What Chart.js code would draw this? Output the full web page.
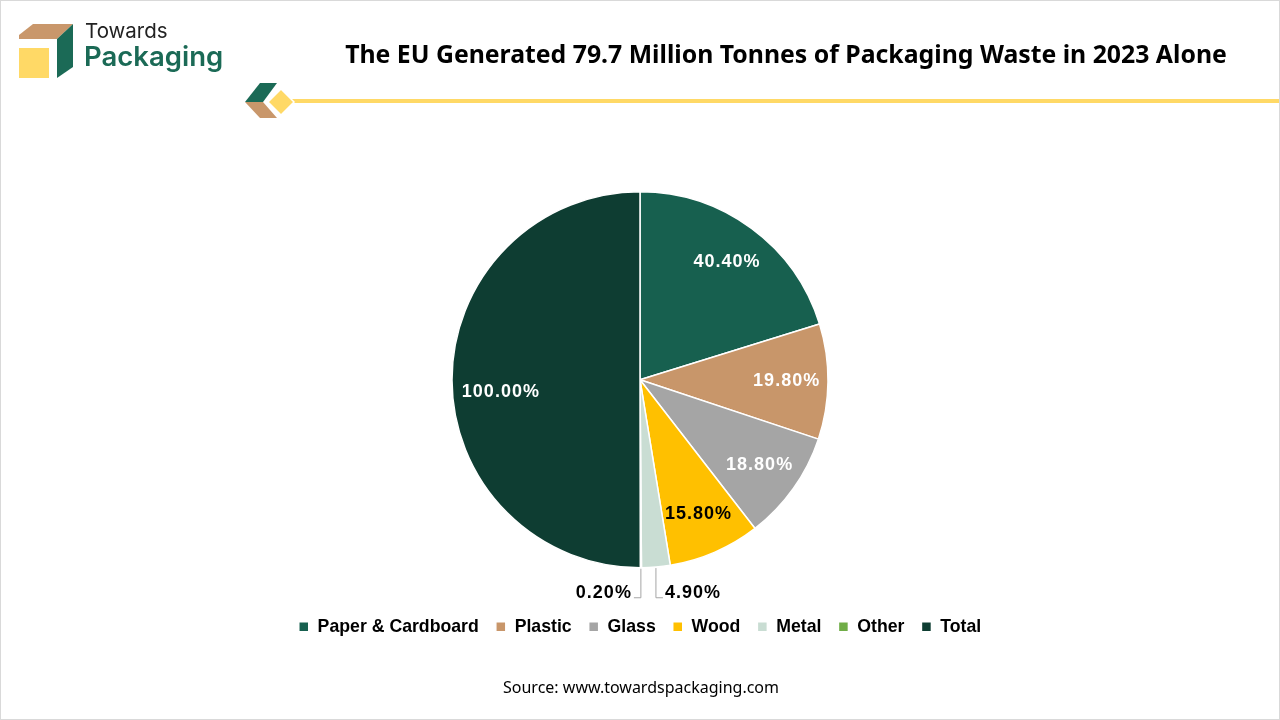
<!DOCTYPE html>
<html lang="en">
<head>
    <meta charset="UTF-8">
    <title>EU Packaging Waste 2023</title>
    <script src="https://cdn.jsdelivr.net/npm/chart.js"></script>
    <style>
        body {
            margin: 0;
            background: #fff;
            font-family: "Noto Sans", sans-serif;
        }
        .page {
            position: relative;
            width: 1278px;
            height: 718px;
            border: 1px solid #d9d9d9;
            overflow: hidden;
        }
        .chart-box {
            position: absolute;
            left: -1px;
            top: -1px;
            width: 1280px;
            height: 720px;
        }
        #logo {
            position: absolute;
            left: -1px;
            top: -1px;
        }
        #title {
            position: absolute;
            left: 335px;
            top: 35px;
            width: 900px;
            text-align: center;
            font-family: "Noto Sans", sans-serif;
            font-weight: bold;
            font-size: 24.8px;
            color: #000;
            white-space: nowrap;
        }
        #source {
            position: absolute;
            left: 0;
            top: 675px;
            width: 1280px;
            text-align: center;
            font-size: 16px;
            color: #000;
        }
    </style>
</head>
<body>
<div class="page">
    <div class="chart-box"><canvas id="wasteChart"></canvas></div>
    <svg id="logo" width="1280" height="130">
        <polygon points="19,35 33,24 73,24 57,39 19,39" fill="#C9976B"/>
        <rect x="19" y="48" width="30" height="30" fill="#FFD966"/>
        <polygon points="57,39 73,24 73,67 57,78" fill="#1B6A56"/>
        <text x="85" y="38" font-family="Inter, sans-serif" font-size="20.5" fill="#222">Towards</text>
        <text x="84" y="66" font-family="Inter, sans-serif" font-weight="600" font-size="27.5" fill="#1B6A56">Packaging</text>
        <polygon points="245,102 260,83 277,83 263,102" fill="#1B6A56"/>
        <polygon points="245,102 263,102 277,118 260,118" fill="#C9976B"/>
        <rect x="288" y="99" width="992" height="4" fill="#FFD966"/>
        <polygon points="281,89 294,102 281,115 268,102" fill="#FFD966" stroke="#fff" stroke-width="1.5"/>
    </svg>
    <div id="title">The EU Generated 79.7 Million Tonnes of Packaging Waste in 2023 Alone</div>
    <div id="source">Source: www.towardspackaging.com</div>
</div>

<script>
    const categories = ["Paper & Cardboard", "Plastic", "Glass", "Wood", "Metal", "Other", "Total"];
    const shares = [40.4, 19.8, 18.8, 15.8, 4.9, 0.2, 100.0];
    const sliceColors = ["#17604F", "#C8966A", "#A5A5A5", "#FFC000", "#C9DDD3", "#70AD47", "#0E3D32"];
    const labelColors = ["#fff", "#fff", "#fff", "#000", "#000", "#000", "#fff"];

    const labelFont = 'bold 18px "Liberation Sans", Arial, sans-serif';

    // data labels: inside the slice, or outside with a leader line for thin ones
    const sliceLabels = {
        id: 'sliceLabels',
        afterDatasetsDraw(chart) {
            const ctx = chart.ctx;
            const meta = chart.getDatasetMeta(0);
            ctx.save();
            ctx.font = labelFont;
            ctx.letterSpacing = '1px';
            ctx.textBaseline = 'middle';
            meta.data.forEach((arc, i) => {
                const p = arc.getProps(['x', 'y', 'startAngle', 'endAngle', 'outerRadius'], true);
                const mid = (p.startAngle + p.endAngle) / 2;
                const text = shares[i].toFixed(2) + '%';
                if (shares[i] >= 10) {
                    const r = p.outerRadius * (shares[i] > 50 ? 0.74 : 0.78);
                    const dy = shares[i] > 50 ? 12 : 0;
                    ctx.fillStyle = labelColors[i];
                    ctx.textAlign = 'center';
                    ctx.fillText(text, p.x + Math.cos(mid) * r, p.y + Math.sin(mid) * r + dy);
                } else {
                    const ex = p.x + Math.cos(mid) * p.outerRadius;
                    const ey = p.y + Math.sin(mid) * p.outerRadius;
                    const ly = p.y + p.outerRadius + 30;
                    const dir = ex - p.x > 5 ? 1 : -1;
                    ctx.strokeStyle = '#A6A6A6';
                    ctx.lineWidth = 1;
                    ctx.beginPath();
                    ctx.moveTo(ex, ey + 1);
                    ctx.lineTo(ex, ly);
                    ctx.lineTo(ex + dir * 7, ly);
                    ctx.stroke();
                    ctx.fillStyle = '#000';
                    ctx.textAlign = dir > 0 ? 'left' : 'right';
                    ctx.fillText(text, ex + dir * 9, ly - 5);
                }
            });
            ctx.restore();
        }
    };

    new Chart(document.getElementById('wasteChart'), {
        type: 'pie',
        data: {
            labels: categories,
            datasets: [{
                data: shares,
                backgroundColor: sliceColors,
                borderColor: '#fff',
                borderWidth: 1.5
            }]
        },
        options: {
            responsive: true,
            maintainAspectRatio: false,
            animation: false,
            radius: 188,
            layout: { padding: { top: 158.6, bottom: 74.4 } },
            plugins: {
                tooltip: { enabled: false },
                legend: {
                    position: 'bottom',
                    labels: {
                        boxWidth: 10,
                        boxHeight: 10,
                        padding: 17,
                        color: '#000',
                        font: { family: '"Liberation Sans", Arial, sans-serif', size: 17.7, weight: 'bold' }
                    }
                }
            }
        },
        plugins: [sliceLabels]
    });
</script>
</body>
</html>
